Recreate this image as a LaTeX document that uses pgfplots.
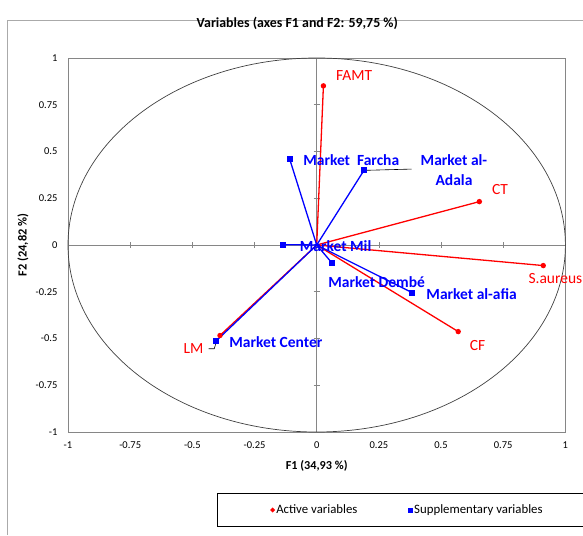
\documentclass[border=0pt]{standalone}
\usepackage{pgfplots}
\pgfplotsset{compat=1.18}
\usepackage{fontspec}
\setmainfont{Carlito}
\definecolor{boxgray}{RGB}{134,134,134}
\definecolor{framegray}{RGB}{170,170,170}
\begin{document}
\begin{tikzpicture}[x=1pt,y=1pt]
\useasboundingbox (0,0) rectangle (583,535);
\draw[framegray, line width=0.8pt] (7,0) -- (7,515) -- (590,515);
\begin{axis}[
  at={(68pt,103pt)}, anchor=south west,
  scale only axis, width=497.4pt, height=374pt,
  xmin=-1, xmax=1, ymin=-1, ymax=1,
  clip=false,
  axis line style={boxgray, line width=0.7pt},
  major tick length=0pt,
  xtick={-1,-0.75,-0.5,-0.25,0,0.25,0.5,0.75,1},
  ytick={-1,-0.75,-0.5,-0.25,0,0.25,0.5,0.75,1},
  xticklabels={-1,-0.75,-0.5,-0.25,0,0.25,0.5,0.75,1},
  yticklabels={-1,-0.75,-0.5,-0.25,0,0.25,0.5,0.75,1},
  /pgf/number format/assume math mode=true,
  tick label style={font=\fontsize{10.5}{12}\selectfont},
  yticklabel style={xshift=-7pt},
  xticklabel style={yshift=-6pt},
  title={\textbf{Variables (axes F1 and F2: 59,75 \%)}},
  title style={font=\fontsize{13.9}{16}\selectfont, at={(rel axis cs:0.461,1.0775)}, anchor=center},
  xlabel={\fontsize{12.2}{14}\selectfont\textbf{F1 (34,93 \%)}},
  ylabel={\fontsize{12.4}{14}\selectfont\textbf{F2 (24,82 \%)}},
  every axis x label/.style={at={(rel axis cs:0.5,-0.091)}, anchor=center},
  every axis y label/.style={at={(rel axis cs:-0.0905,0.5)}, anchor=center, rotate=90},
  legend columns=2,
  legend style={at={(rel axis cs:0.683,-0.2086)}, anchor=center, draw=black, line width=1.2pt,
    font=\fontsize{12.8}{14}\selectfont, inner xsep=53pt, inner ysep=9pt,
    /tikz/every even column/.append style={column sep=49pt}},
  legend image code/.code={\draw[mark repeat=2,mark phase=2,#1] plot coordinates {(0pt,0pt) (4pt,0pt) (8pt,0pt)};},
]
% centre lines with ticks
\draw[boxgray, line width=0.7pt] (axis cs:-1,0) -- (axis cs:1,0);
\draw[boxgray, line width=0.7pt] (axis cs:0,-1) -- (axis cs:0,1);
\pgfplotsinvokeforeach{-0.75,-0.5,-0.25,0.25,0.5,0.75}{
  \draw[boxgray, line width=0.7pt] ([yshift=-3pt]axis cs:#1,0) -- ([yshift=3pt]axis cs:#1,0);
  \draw[boxgray, line width=0.7pt] ([xshift=-3pt]axis cs:0,#1) -- ([xshift=3pt]axis cs:0,#1);
}
% correlation circle
\draw[black!75, line width=0.7pt] (axis cs:0,0) ellipse [x radius=1, y radius=1];

\addlegendimage{only marks, mark=*, red, mark size=1.7pt}
\addlegendentry{Active variables}
\addlegendimage{only marks, mark=square*, blue, mark size=1.9pt}
\addlegendentry{Supplementary variables}

\pgfplotsset{act/.style={red, line width=1.3pt, mark=*, mark size=2pt, mark indices={2}, forget plot},
             sup/.style={blue, line width=1.3pt, mark=square*, mark size=2.4pt, mark indices={2}, forget plot}}
% active variables
\addplot[act] coordinates {(0,0) (0.027,0.851)};   % FAMT
\addplot[act] coordinates {(0,0) (0.654,0.232)};   % CT
\addplot[act] coordinates {(0,0) (0.911,-0.110)};  % S.aureus
\addplot[act] coordinates {(0,0) (0.569,-0.463)};  % CF
\addplot[act] coordinates {(0,0) (-0.389,-0.484)}; % LM
% supplementary variables
\addplot[sup] coordinates {(0,0) (-0.109,0.461)};  % Market Farcha
\addplot[sup] coordinates {(0,0) (0.190,0.399)};   % Market al-Adala
\addplot[sup] coordinates {(0,0) (-0.134,0.002)};  % Market Mil
\addplot[sup] coordinates {(0,0) (0.060,-0.094)};  % Market Dembé
\addplot[sup] coordinates {(0,0) (0.384,-0.255)};  % Market al-afia
\addplot[sup] coordinates {(0,0) (-0.405,-0.514)}; % Market Center

% leader lines
\draw[black, line width=0.6pt] (axis cs:0.190,0.399) -- (axis cs:0.382,0.406);
\draw[black, line width=0.6pt] (axis cs:-0.435,-0.555) -- (axis cs:-0.412,-0.555) -- (axis cs:-0.405,-0.525);

% labels
\begin{scope}[every node/.style={font=\fontsize{15.5}{18}\selectfont, inner sep=0pt}]
\node[red] at (axis cs:0.151,0.908) {FAMT};
\node[red] at (axis cs:0.737,0.296) {CT};
\node[red, anchor=west] at (axis cs:0.851,-0.182) {S.aureus};
\node[red] at (axis cs:0.647,-0.537) {CF};
\node[red] at (axis cs:-0.495,-0.555) {LM};
\node[blue, font=\fontsize{15.5}{18}\selectfont\bfseries] at (axis cs:0.139,0.456) {Market\ \ Farcha};
\node[blue, align=center, font=\fontsize{15.5}{20}\selectfont\bfseries] at (axis cs:0.552,0.402) {Market al-\\Adala};
\node[blue, font=\fontsize{15.5}{18}\selectfont\bfseries] at (axis cs:0.076,-0.005) {Market Mil};
\node[blue, font=\fontsize{15.5}{18}\selectfont\bfseries] at (axis cs:0.241,-0.200) {Market Dembé};
\node[blue, font=\fontsize{15.5}{18}\selectfont\bfseries] at (axis cs:0.623,-0.264) {Market al-afia};
\node[blue, font=\fontsize{15.5}{18}\selectfont\bfseries] at (axis cs:-0.164,-0.519) {Market Center};
\end{scope}
\end{axis}
\end{tikzpicture}
\end{document}
